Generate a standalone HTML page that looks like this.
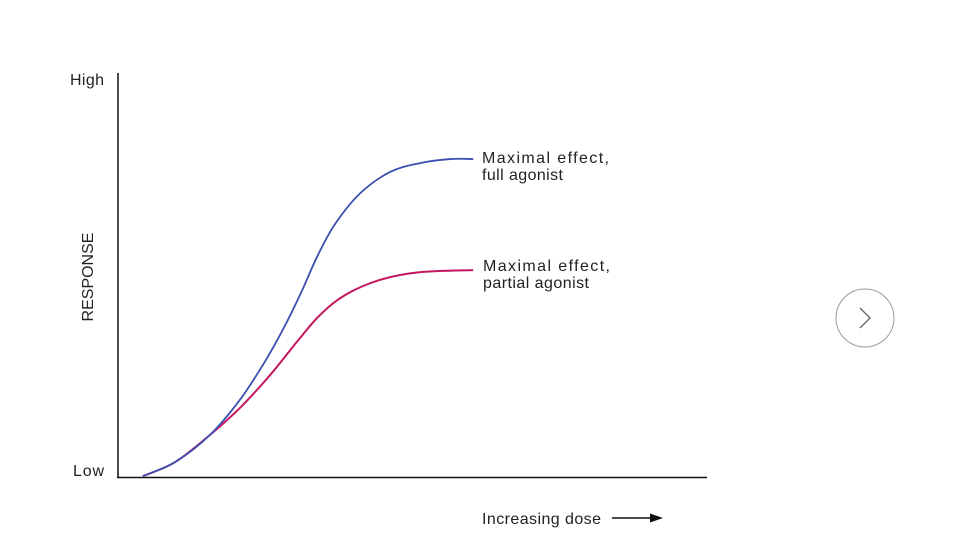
<!DOCTYPE html>
<html><head><meta charset="utf-8"><style>
body{margin:0;background:#fff;width:961px;height:542px;overflow:hidden;font-family:"Liberation Sans",sans-serif}
svg text{font-family:"Liberation Sans",sans-serif;fill:#222}
</style></head><body>
<svg width="961" height="542">
<g id="axes">
<line x1="118" y1="73" x2="118" y2="478" stroke="#111" stroke-width="1.5"/>
<line x1="117" y1="477.5" x2="707" y2="477.5" stroke="#111" stroke-width="1.5"/>
<text x="70" y="85" font-size="16" textLength="34">High</text>
<text x="73" y="476" font-size="16" textLength="31">Low</text>
<text transform="translate(93,277) rotate(-90)" text-anchor="middle" font-size="16">RESPONSE</text>
<text x="482" y="524" font-size="16" textLength="119">Increasing dose</text>
<line x1="612" y1="518" x2="652" y2="518" stroke="#111" stroke-width="1.5"/>
<polygon points="663,518 650,513.5 650,522.5" fill="#111"/>
</g>
<g id="series"></g>
<text font-size="16"><tspan x="482" y="163" textLength="127">Maximal effect,</tspan><tspan x="482" y="180" textLength="81">full agonist</tspan></text>
<text font-size="16"><tspan x="483" y="271" textLength="127">Maximal effect,</tspan><tspan x="483" y="288" textLength="106">partial agonist</tspan></text>
<g>
<circle cx="865" cy="318" r="29" fill="#fff" stroke="#999" stroke-width="1"/>
<polyline points="860,308 870,318 860,328" fill="none" stroke="#666" stroke-width="1.3"/>
</g>
</svg>
<script>
const fullDose=[4.2,9.7,15.6,20.7,25,28.4,31.2,33.8,36.8,41.1,46.2,51.3,56.4,60.3];
const fullResp=[0.2,3.7,10.4,19.1,28.7,37.6,46,54.5,62.5,70.2,75.5,77.7,78.7,78.7];
const partDose=[4.2,9.7,15.6,20.7,25.8,30.9,34.3,38.5,44.5,51.3,60.3];
const partResp=[0.2,3.7,10.4,17.1,25.2,34.4,40.1,45,48.8,50.7,51.2];
const xS=d=>118+d*5.89, yS=r=>477-r*4.04;
function path(xs,ys){
  const p=xs.map((d,i)=>[xS(d),yS(ys[i])]);
  let s=`M${p[0][0]},${p[0][1]}`;
  for(let i=0;i<p.length-1;i++){
    const p0=p[i-1]||p[i],p1=p[i],p2=p[i+1],p3=p[i+2]||p2;
    s+=` C${p1[0]+(p2[0]-p0[0])/6},${p1[1]+(p2[1]-p0[1])/6} ${p2[0]-(p3[0]-p1[0])/6},${p2[1]-(p3[1]-p1[1])/6} ${p2[0]},${p2[1]}`;
  }
  return s;
}
const g=document.getElementById('series');
const ns='http://www.w3.org/2000/svg';
const a=document.createElementNS(ns,'path');
a.setAttribute('d',path(partDose,partResp));a.setAttribute('fill','none');a.setAttribute('stroke','#c4175f');a.setAttribute('stroke-width','2');


g.appendChild(a);
const b=document.createElementNS(ns,'path');
b.setAttribute('d',path(fullDose,fullResp));b.setAttribute('fill','none');b.setAttribute('stroke','#3d4fb0');b.setAttribute('stroke-width','1.8');


g.appendChild(b);
</script>
</body></html>
